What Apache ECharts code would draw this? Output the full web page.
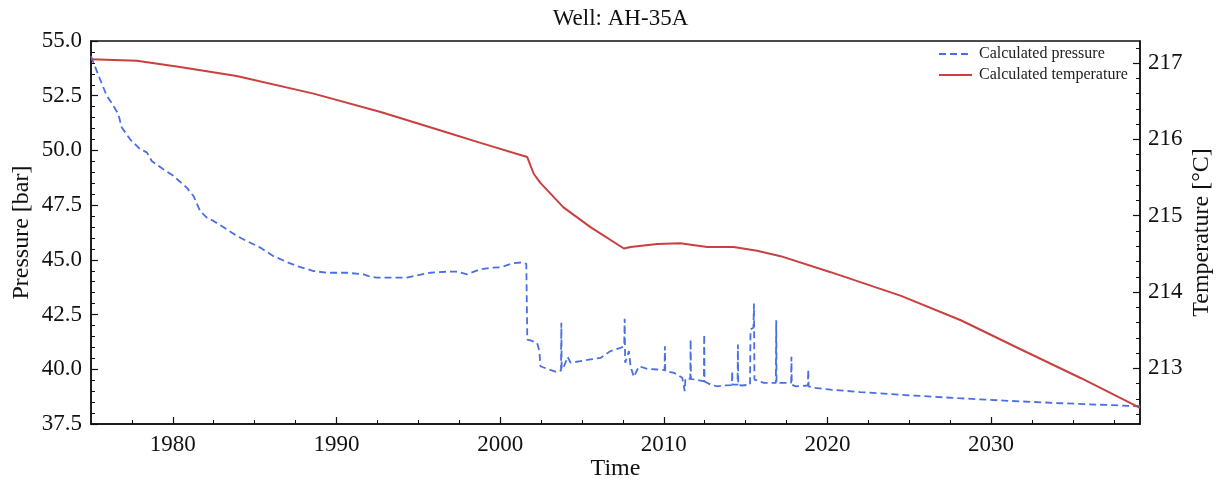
<!DOCTYPE html>
<html>
<head>
<meta charset="utf-8">
<title>Well: AH-35A</title>
<script src="https://cdn.jsdelivr.net/npm/echarts@6/dist/echarts.min.js"></script>
<style>
  html, body { margin: 0; padding: 0; background: #fff; }
  #chart { width: 1217px; height: 481px; }
</style>
</head>
<body>
<div id="chart"></div>
<script>
// Simulated well history: pressure (bar) and temperature (°C) over time (years)
const pressureTime = [
  1975.0, 1975.55, 1975.96, 1976.37, 1976.67, 1976.88, 1977.39, 1978.0, 1978.41, 1978.71,
  1979.42, 1980.03, 1980.85, 1981.26, 1981.67, 1982.08, 1982.48, 1983.3, 1983.91, 1984.52,
  1985.34, 1986.15, 1986.97, 1987.58, 1988.6, 1989.42, 1990.64, 1991.65, 1992.06, 1992.47,
  1994.3, 1994.71, 1995.73, 1996.76, 1997.37, 1997.98, 1998.79, 1999.5, 2000.0, 2000.83,
  2001.3, 2001.6, 2001.66, 2001.85, 2002.26, 2002.4, 2002.46, 2002.87, 2003.48, 2003.72,
  2003.74, 2003.76, 2003.89, 2004.13, 2004.3, 2004.9, 2005.52, 2006.13, 2006.74, 2007.35,
  2007.58, 2007.61, 2007.64, 2007.87, 2007.97, 2008.17, 2008.48, 2008.99, 2009.6, 2010.05,
  2010.07, 2010.09, 2010.62, 2011.13, 2011.28, 2011.32, 2011.62, 2011.64, 2011.66, 2011.94,
  2012.45, 2012.47, 2012.49, 2012.86, 2013.27, 2013.67, 2014.16, 2014.18, 2014.2, 2014.51,
  2014.53, 2014.55, 2014.79, 2015.27, 2015.3, 2015.48, 2015.51, 2015.54, 2016.12, 2016.85,
  2016.87, 2016.89, 2017.14, 2017.78, 2017.8, 2017.82, 2018.06, 2018.8, 2018.83, 2018.85,
  2019.18, 2020.2, 2022.0, 2025.0, 2028.0, 2031.0, 2034.0, 2037.0, 2039.1
];
const pressureBar = [
  54.3, 53.26, 52.5, 52.04, 51.66, 51.05, 50.51, 50.06, 49.91, 49.52,
  49.14, 48.84, 48.3, 47.92, 47.23, 46.93, 46.78, 46.4, 46.09, 45.86,
  45.56, 45.17, 44.9, 44.72, 44.49, 44.41, 44.41, 44.34, 44.23, 44.19,
  44.19, 44.26, 44.41, 44.46, 44.46, 44.34, 44.57, 44.64, 44.66, 44.85,
  44.88, 44.82, 41.36, 41.32, 41.21, 40.83, 40.14, 40.02, 39.87, 39.95,
  42.13, 40.0, 40.11, 40.57, 40.3, 40.37, 40.45, 40.52, 40.83, 40.98,
  41.05, 42.31, 40.3, 40.83, 40.14, 39.65, 40.14, 40.02, 39.99, 39.96,
  41.05, 39.93, 39.84, 39.61, 39.0, 39.58, 39.56, 41.36, 39.55, 39.53,
  39.45, 41.59, 39.44, 39.3, 39.22, 39.26, 39.28, 39.91, 39.3, 39.3,
  41.13, 39.28, 39.26, 39.3, 41.82, 41.9, 43.0, 39.53, 39.38, 39.38,
  42.24, 39.4, 39.38, 39.38, 40.57, 39.3, 39.22, 39.26, 39.99, 39.22,
  39.15, 39.07, 38.96, 38.81, 38.68, 38.56, 38.46, 38.37, 38.31
];
const temperatureTime = [
  1975.0, 1977.8, 1980.44, 1983.9, 1988.6, 1992.7, 1996.76, 1998.8, 2001.65, 2002.05,
  2002.46, 2003.87, 2005.52, 2007.56, 2007.97, 2009.6, 2011.0, 2012.66, 2014.27, 2015.7,
  2017.14, 2020.2, 2024.5, 2028.15, 2031.8, 2035.5, 2039.1
];
const temperatureC = [
  217.05, 217.03, 216.95, 216.83, 216.6, 216.36, 216.09, 215.955, 215.77, 215.55,
  215.43, 215.11, 214.85, 214.57, 214.59, 214.63, 214.64, 214.59, 214.59, 214.54,
  214.47, 214.26, 213.95, 213.63, 213.25, 212.87, 212.48
];
const timeMajorTicks = [1980, 1990, 2000, 2010, 2020, 2030];
const timeMinorTicks = [1977.5, 1982.5, 1985, 1987.5, 1992.5, 1995, 1997.5, 2002.5, 2005, 2007.5,
  2012.5, 2015, 2017.5, 2022.5, 2025, 2027.5, 2032.5, 2035, 2037.5];
const tempMajorTicks = [213, 214, 215, 216, 217];
const tempMinorTicks = [212.4, 212.6, 212.8, 213.2, 213.4, 213.6, 213.8, 214.2, 214.4, 214.6, 214.8,
  215.2, 215.4, 215.6, 215.8, 216.2, 216.4, 216.6, 216.8, 217.2];

const FONT = "'Liberation Serif', 'DejaVu Serif', serif";
const TIME_MIN = 1975, TIME_MAX = 2039.1;
const P_MIN = 37.5, P_MAX = 55.0;
const T_MIN = 212.27, T_MAX = 217.29;

const pressureData = pressureTime.map((t, i) => [t, pressureBar[i]]);
const temperatureData = temperatureTime.map((t, i) => [t, temperatureC[i]]);

const black = '#111';
const chart = echarts.init(document.getElementById('chart'), null, { renderer: 'canvas' });

chart.setOption({
  backgroundColor: '#fff',
  animation: false,
  title: {
    text: 'Well: AH-35A',
    left: 615.5,
    top: 2,
    textAlign: 'center',
    textStyle: { fontFamily: FONT, fontSize: 23, fontWeight: 'normal', color: black }
  },
  legend: {
    orient: 'vertical',
    left: 933,
    top: 41,
    itemWidth: 33,
    itemHeight: 14,
    itemGap: 5,
    itemStyle: { opacity: 0 },
    textStyle: { fontFamily: FONT, fontSize: 16, color: '#222', padding: [0, 0, 0, 2] },
    data: ['Calculated pressure', 'Calculated temperature']
  },
  grid: {
    left: 91, right: 77, top: 41, bottom: 57,
    outerBoundsMode: 'none',
    containLabel: false,
    show: true, borderColor: black, borderWidth: 1.5, backgroundColor: 'transparent'
  },
  xAxis: [
    {
      type: 'value', min: TIME_MIN, max: TIME_MAX, position: 'bottom',
      name: 'Time', nameLocation: 'middle', nameGap: 33, nameMoveOverlap: false,
      nameTextStyle: { fontFamily: FONT, fontSize: 24, color: black },
      axisLine: { show: true, lineStyle: { color: black, width: 1.5 } },
      axisTick: { show: true, inside: true, length: 7, customValues: timeMajorTicks, lineStyle: { color: black, width: 1.2 } },
      axisLabel: { show: true, customValues: timeMajorTicks, margin: 9, fontFamily: FONT, fontSize: 23, color: black, formatter: v => String(Math.round(v)) },
      splitLine: { show: false }
    },
    {
      type: 'value', min: TIME_MIN, max: TIME_MAX, position: 'bottom',
      axisLine: { show: false },
      axisTick: { show: true, inside: true, length: 4, customValues: timeMinorTicks, lineStyle: { color: black, width: 1 } },
      axisLabel: { show: false },
      splitLine: { show: false }
    }
  ],
  yAxis: [
    {
      type: 'value', min: P_MIN, max: P_MAX, interval: 2.5, position: 'left',
      name: 'Pressure [bar]', nameLocation: 'middle', nameGap: 57, nameRotate: 90, nameMoveOverlap: false,
      nameTextStyle: { fontFamily: FONT, fontSize: 24, color: black },
      axisLine: { show: true, lineStyle: { color: black, width: 1.5 } },
      axisTick: { show: true, inside: true, length: 7, lineStyle: { color: black, width: 1.2 } },
      minorTick: { show: true, splitNumber: 5, length: 4, lineStyle: { color: black, width: 1 } },
      axisLabel: { margin: 9, fontFamily: FONT, fontSize: 23, color: black, formatter: v => v.toFixed(1) },
      splitLine: { show: false },
      minorSplitLine: { show: false }
    },
    {
      type: 'value', min: T_MIN, max: T_MAX, position: 'right',
      name: 'Temperature [°C]', nameLocation: 'middle', nameGap: 50, nameRotate: 90, nameMoveOverlap: false,
      nameTextStyle: { fontFamily: FONT, fontSize: 24, color: black },
      axisLine: { show: true, lineStyle: { color: black, width: 1.5 } },
      axisTick: { show: true, inside: true, length: 7, customValues: tempMajorTicks, lineStyle: { color: black, width: 1.2 } },
      axisLabel: { customValues: tempMajorTicks, margin: 8, fontFamily: FONT, fontSize: 23, color: black, formatter: v => String(Math.round(v)) },
      splitLine: { show: false }
    },
    {
      type: 'value', min: T_MIN, max: T_MAX, position: 'right',
      axisLine: { show: false },
      axisTick: { show: true, inside: true, length: 4, customValues: tempMinorTicks, lineStyle: { color: black, width: 1 } },
      axisLabel: { show: false },
      splitLine: { show: false }
    }
  ],
  series: [
    {
      name: 'Calculated pressure',
      type: 'line',
      xAxisIndex: 0,
      yAxisIndex: 0,
      data: pressureData,
      symbol: 'none',
      smooth: false,
      color: '#4a6fe3',
      lineStyle: { color: '#4a6fe3', width: 1.8, type: [7, 4] },
      z: 3
    },
    {
      name: 'Calculated temperature',
      type: 'line',
      xAxisIndex: 0,
      yAxisIndex: 1,
      data: temperatureData,
      symbol: 'none',
      smooth: false,
      color: '#c9403f',
      lineStyle: { color: '#c9403f', width: 2 },
      z: 4
    }
  ]
});
</script>
</body>
</html>
